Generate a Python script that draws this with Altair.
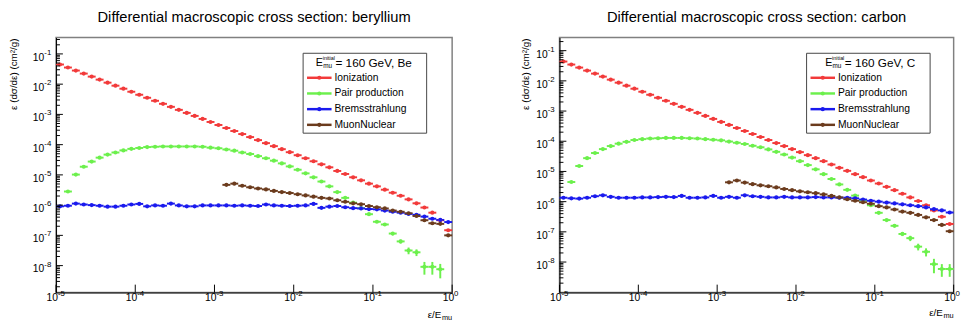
import altair as alt
import numpy as np
import pandas as pd

FONT = "Liberation Sans"

# 10 logarithmic bins per decade over [1e-5, 1]
N_BINS = 50
EDGES = np.logspace(-5, 0, N_BINS + 1)

SERIES = ["Ionization", "Pair production", "Bremsstrahlung", "MuonNuclear"]
COLORS = ["#f23a3a", "#6cf04c", "#1a1aee", "#6b3b1d"]

# ---- values: log10 of eps*dsigma/deps (cm^2/g) per bin ----
BE_ION = [-1.35, -1.45, -1.55, -1.65, -1.75, -1.85, -1.95, -2.05, -2.15, -2.25,
          -2.35, -2.45, -2.55, -2.65, -2.75, -2.85, -2.95, -3.05, -3.15, -3.25,
          -3.35, -3.45, -3.55, -3.65, -3.75, -3.85, -3.95, -4.05, -4.15, -4.25,
          -4.35, -4.45, -4.55, -4.65, -4.75, -4.87, -4.97, -5.08, -5.18, -5.29,
          -5.38, -5.49, -5.59, -5.69, -5.81, -5.94, -6.08, -6.25, -6.50, -6.83]
BE_PAIR = [None, -5.55, -4.99, -4.73, -4.56, -4.43, -4.33, -4.26, -4.19, -4.14,
           -4.11, -4.08, -4.07, -4.06, -4.06, -4.06, -4.06, -4.06, -4.07, -4.10,
           -4.12, -4.16, -4.20, -4.26, -4.31, -4.38, -4.45, -4.53, -4.62, -4.72,
           -4.83, -4.95, -5.08, -5.22, -5.38, -5.57, -5.76, -5.92, -6.10, -6.30,
           -6.55, -6.64, -6.94, -7.20, -7.50, -7.56, -8.04, -8.04, -8.12, None]
BE_PAIR_ERR = [0] * 41 + [0.08, 0.12, 0.15, 0.25, 0.25, 0.45, 0.45, 0.5, 0]
BE_BREMS = [-6.04, -6.02, -5.95, -5.98, -6.00, -6.02, -6.05, -6.05, -6.02, -5.98,
            -5.96, -6.04, -6.01, -6.02, -5.95, -6.01, -6.04, -6.04, -6.01, -6.01,
            -6.01, -6.01, -6.02, -6.01, -6.02, -6.03, -5.98, -6.01, -6.02, -6.03,
            -6.02, -6.01, -5.96, -6.09, -6.05, -6.03, -6.07, -6.10, -6.11, -6.13,
            -6.14, -6.18, -6.22, -6.25, -6.29, -6.32, -6.38, -6.45, -6.49, -6.56]
BE_MUNUC = [None] * 21 + [-5.33, -5.29, -5.36, -5.41, -5.45, -5.48, -5.53, -5.57, -5.60,
                          -5.64, -5.68, -5.72, -5.76, -5.78, -5.84, -5.89, -5.94, -5.97, -6.03,
                          -6.07, -6.11, -6.18, -6.22, -6.27, -6.36, -6.50, -6.60, -6.62, -7.00]

C_ION = [-1.36, -1.46, -1.56, -1.66, -1.76, -1.86, -1.96, -2.06, -2.16, -2.26,
         -2.36, -2.46, -2.56, -2.66, -2.76, -2.86, -2.96, -3.06, -3.16, -3.26,
         -3.36, -3.46, -3.56, -3.66, -3.76, -3.86, -3.96, -4.06, -4.16, -4.26,
         -4.36, -4.46, -4.56, -4.66, -4.77, -4.88, -4.98, -5.09, -5.19, -5.30,
         -5.40, -5.51, -5.62, -5.74, -5.86, -5.98, -6.12, -6.29, -6.50, -6.74]
C_PAIR = [None, -5.35, -4.82, -4.56, -4.39, -4.26, -4.16, -4.08, -4.02, -3.96,
          -3.93, -3.91, -3.90, -3.89, -3.89, -3.89, -3.90, -3.91, -3.93, -3.95,
          -3.97, -4.01, -4.05, -4.09, -4.15, -4.20, -4.27, -4.35, -4.44, -4.54,
          -4.66, -4.79, -4.93, -5.09, -5.25, -5.43, -5.61, -5.80, -5.96, -6.12,
          -6.37, -6.61, -6.80, -7.07, -7.21, -7.49, -7.66, -8.07, -8.23, -8.23]
C_PAIR_ERR = [0] * 41 + [0.08, 0.10, 0.15, 0.20, 0.25, 0.30, 0.50, 0.45, 0.45]
C_BREMS = [-5.87, -5.89, -5.90, -5.87, -5.82, -5.79, -5.84, -5.87, -5.87, -5.87,
           -5.86, -5.86, -5.85, -5.84, -5.85, -5.81, -5.87, -5.87, -5.86, -5.81,
           -5.87, -5.84, -5.87, -5.79, -5.82, -5.84, -5.86, -5.86, -5.84, -5.86,
           -5.86, -5.86, -5.85, -5.86, -5.86, -5.87, -5.87, -5.89, -5.93, -5.97,
           -6.00, -6.03, -6.06, -6.09, -6.12, -6.15, -6.19, -6.25, -6.29, -6.36]
C_MUNUC = [None] * 21 + [-5.36, -5.30, -5.37, -5.42, -5.46, -5.49, -5.53, -5.58, -5.62,
                         -5.66, -5.69, -5.72, -5.76, -5.81, -5.86, -5.92, -5.97, -6.02, -6.07,
                         -6.15, -6.19, -6.26, -6.33, -6.37, -6.44, -6.52, -6.61, -6.77, -6.98]

# axis decorations
X_DECADES = [1e-5, 1e-4, 1e-3, 1e-2, 1e-1, 1.0]
X_EXP = ["-5", "-4", "-3", "-2", "-1", "0"]
Y_DECADES = [1e-1, 1e-2, 1e-3, 1e-4, 1e-5, 1e-6, 1e-7, 1e-8]
Y_EXP = ["-1", "-2", "-3", "-4", "-5", "-6", "-7", "-8"]

BE_YDOM = [1.29e-9, 0.347]
C_YDOM = [9.8e-10, 0.271]

Y_TITLE = "ε (dσ/dε) (cm²/g)"


def build_df(logs, pair_err):
    rows = []
    for name, vals in zip(SERIES, logs):
        for i, v in enumerate(vals):
            if v is None:
                continue
            y = 10.0 ** v
            e = pair_err[i] if name == "Pair production" else 0
            rows.append(dict(series=name, x=float(np.sqrt(EDGES[i] * EDGES[i + 1])),
                             xlo=float(EDGES[i]), xhi=float(EDGES[i + 1]),
                             y=y, ylo=y * (1 - e), yhi=y * (1 + e), err=e))
    return pd.DataFrame(rows)


def panel(title, header_rest, logs, pair_err, ydom, W, H, ytitle_x, xt_dy, hdr_x):
    df = build_df(logs, pair_err)
    xs = alt.Scale(type="log", domain=[1e-5, 1.0], nice=False)
    ys = alt.Scale(type="log", domain=ydom, nice=False)
    ax = alt.Axis(labels=False, ticks=False, grid=False, title=None,
                  domainColor="#000000", domainWidth=1)
    col = alt.Color("series:N", scale=alt.Scale(domain=SERIES, range=COLORS), legend=None)

    def X(f):
        return alt.X(f, type="quantitative", scale=xs, axis=ax)

    def Y(f):
        return alt.Y(f, type="quantitative", scale=ys, axis=ax)

    base = alt.Chart(df)
    hbar = base.mark_rule(strokeWidth=2).encode(x=X("xlo"), x2="xhi", y=Y("y"), color=col)
    vbar = alt.Chart(df[df.err > 0]).mark_rule(strokeWidth=2).encode(
        x=X("x"), y=Y("ylo"), y2="yhi", color=col)
    dots = base.mark_circle(size=18, opacity=1).encode(x=X("x"), y=Y("y"), color=col)

    ymaj = pd.DataFrame({"v": Y_DECADES, "exp": Y_EXP})
    ymin_vals = [m * 10.0 ** k for k in range(-10, 0) for m in range(2, 10)
                 if ydom[0] <= m * 10.0 ** k <= ydom[1]]
    ymin = pd.DataFrame({"v": ymin_vals})
    xmaj = pd.DataFrame({"v": X_DECADES, "exp": X_EXP})

    ytk = alt.Chart(ymaj).mark_rule(color="#000", strokeWidth=1).encode(
        x=alt.value(0), x2=alt.value(7), y=Y("v"))
    ytk2 = alt.Chart(ymin).mark_rule(color="#000", strokeWidth=1).encode(
        x=alt.value(0), x2=alt.value(4), y=Y("v"))
    xtk = alt.Chart(xmaj).mark_rule(color="#000", strokeWidth=1).encode(
        x=X("v"), y=alt.value(H), y2=alt.value(H - 8))

    ylab = alt.Chart(ymaj).mark_text(align="right", baseline="middle", fontSize=10.5,
                                      font=FONT, dy=4, text="10").encode(
        x=alt.value(-12), y=Y("v"))
    ylabe = alt.Chart(ymaj).mark_text(align="left", baseline="middle", fontSize=8,
                                       font=FONT, dy=-1).encode(
        x=alt.value(-12), y=Y("v"), text="exp:N")
    xlab = alt.Chart(xmaj).mark_text(align="right", baseline="middle", fontSize=10.5,
                                      font=FONT, dx=2, text="10").encode(
        x=X("v"), y=alt.value(H + 6))
    xlabe = alt.Chart(xmaj).mark_text(align="left", baseline="middle", fontSize=8,
                                       font=FONT, dx=2).encode(
        x=X("v"), y=alt.value(H + 2), text="exp:N")

    one = pd.DataFrame({"a": [0]})
    ttl = alt.Chart(one).mark_text(text=title, fontSize=15, font=FONT, align="center",
                                   baseline="middle").encode(
        x=alt.value(W / 2), y=alt.value(-21))
    ytl = alt.Chart(one).mark_text(text=Y_TITLE, fontSize=10, font=FONT, angle=270,
                                   align="right", baseline="middle").encode(
        x=alt.value(ytitle_x), y=alt.value(1))
    xt1 = alt.Chart(one).mark_text(text="ε/E", fontSize=10, font=FONT, align="right",
                                   baseline="middle").encode(
        x=alt.value(W - 11), y=alt.value(H + xt_dy))
    xt2 = alt.Chart(one).mark_text(text="mu", fontSize=7.5, font=FONT, align="right",
                                   baseline="middle").encode(
        x=alt.value(W), y=alt.value(H + xt_dy + 3))

    # legend box (ROOT TLegend look)
    box = alt.Chart(one).mark_rect(fill="white", stroke="#444", strokeWidth=1).encode(
        x=alt.value(252), x2=alt.value(378), y=alt.value(16), y2=alt.value(97.5))
    h1 = alt.Chart(one).mark_text(text="E", fontSize=11, font=FONT, align="left",
                                  baseline="middle").encode(x=alt.value(hdr_x), y=alt.value(25.7))
    h2 = alt.Chart(one).mark_text(text="initial", fontSize=5.5, font=FONT, align="left",
                                  baseline="middle").encode(x=alt.value(hdr_x + 7), y=alt.value(21))
    h3 = alt.Chart(one).mark_text(text="mu", fontSize=6.5, font=FONT, align="left",
                                  baseline="middle").encode(x=alt.value(hdr_x + 7.5), y=alt.value(29.5))
    h4 = alt.Chart(one).mark_text(text=header_rest, fontSize=12, font=FONT, align="left",
                                  baseline="middle").encode(x=alt.value(hdr_x + 20), y=alt.value(25.7))
    leg_df = pd.DataFrame({"series": SERIES, "ly": [41, 57, 73, 89]})
    lline = alt.Chart(leg_df).mark_rule(strokeWidth=2.5).encode(
        x=alt.value(256), x2=alt.value(281), y=alt.Y("ly:Q", scale=None), color=col)
    ldot = alt.Chart(leg_df).mark_circle(size=18, opacity=1).encode(
        x=alt.value(268.5), y=alt.Y("ly:Q", scale=None), color=col)
    ltxt = alt.Chart(leg_df).mark_text(fontSize=10.5, font=FONT, align="left",
                                       baseline="middle", color="#000").encode(
        x=alt.value(284), y=alt.Y("ly:Q", scale=None), text="series:N")

    return alt.layer(hbar, vbar, dots, ytk, ytk2, xtk, ylab, ylabe, xlab, xlabe,
                     ttl, ytl, xt1, xt2, box, lline, ldot, ltxt, h1, h2, h3, h4
                     ).properties(width=W, height=H)


left = panel("Differential macroscopic cross section: beryllium", "= 160 GeV, Be",
             [BE_ION, BE_PAIR, BE_BREMS, BE_MUNUC], BE_PAIR_ERR, BE_YDOM,
             404, 260, -42.5, 23.5, 265)
right = panel("Differential macroscopic cross section: carbon", "= 160 GeV, C",
              [C_ION, C_PAIR, C_BREMS, C_MUNUC], C_PAIR_ERR, C_YDOM,
              402, 260, -34, 21, 271)

chart = alt.hconcat(left, right, spacing=61.5).properties(
    padding={"left": 0, "top": -2, "right": 0, "bottom": 0}, background="white"
).configure_view(stroke="#808080", strokeWidth=1.5)

chart.save("out.html", embed_options={"renderer": "svg", "actions": False})
